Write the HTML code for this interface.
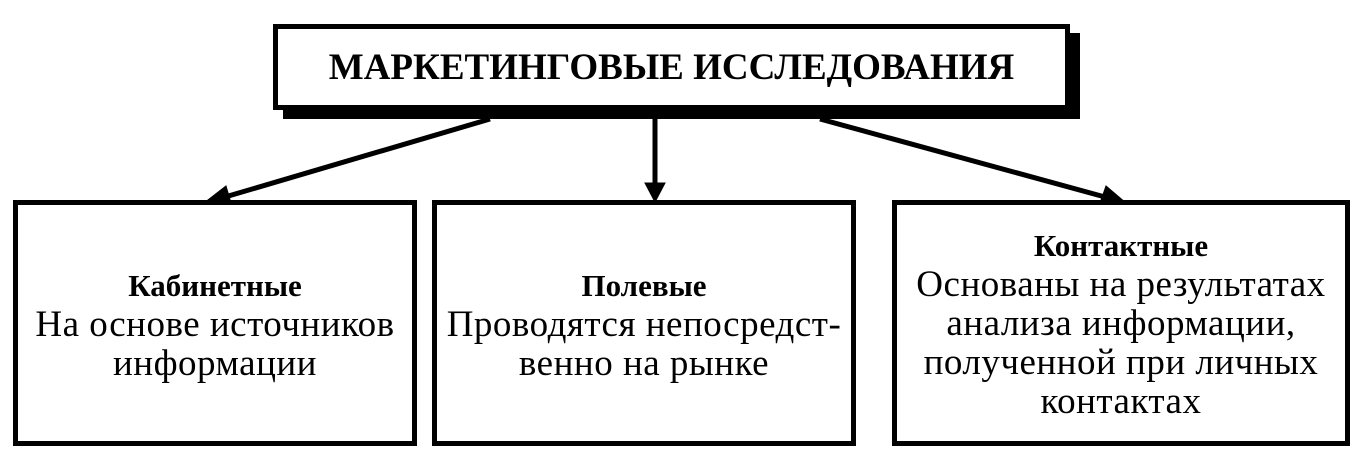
<!DOCTYPE html>
<html><head><meta charset="utf-8"><style>
body{margin:0;width:1357px;height:459px;background:#fff;position:relative;overflow:hidden;font-family:"Liberation Serif",serif;color:#000}
.b{position:absolute;border:5px solid #000;box-sizing:border-box;background:#fff;text-align:center;font-size:37px;line-height:39px;letter-spacing:0.5px;white-space:nowrap}
.b b{font-size:31px;letter-spacing:0}
</style></head><body>
<div style="position:absolute;left:283px;top:33px;width:797px;height:86px;background:#000"></div>
<div class="b" style="left:273px;top:24px;width:797px;height:86px;display:flex;align-items:center;justify-content:center;font-weight:bold;font-size:37px;letter-spacing:0">МАРКЕТИНГОВЫЕ ИССЛЕДОВАНИЯ</div>
<svg width="1357" height="459" style="position:absolute;left:0;top:0">
<g stroke="#000" stroke-width="5" fill="#000">
<line x1="490" y1="119" x2="225" y2="197"/>
<line x1="655" y1="118" x2="655" y2="185"/>
<line x1="820" y1="119" x2="1105" y2="197"/>
<polygon points="204,203 226,186 231,203" stroke-width="1"/>
<polygon points="645,183 665,183 655,202" stroke-width="1"/>
<polygon points="1126,203 1100,203 1106,186" stroke-width="1"/>
</g></svg>
<div class="b" style="left:13px;top:200px;width:404px;height:246px;padding-top:60px"><b>Кабинетные</b><br>На основе источников<br>информации</div>
<div class="b" style="left:432px;top:200px;width:424px;height:246px;padding-top:60px"><b>Полевые</b><br>Проводятся непосредст-<br>венно на рынке</div>
<div class="b" style="left:892px;top:200px;width:458px;height:246px;padding-top:20px"><b>Контактные</b><br>Основаны на результатах<br>анализа информации,<br>полученной при личных<br>контактах</div>
</body></html>
